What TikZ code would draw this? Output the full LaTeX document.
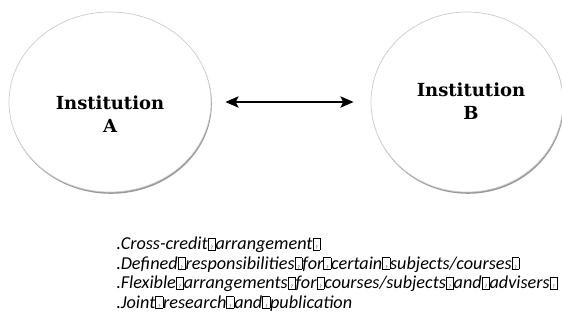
\documentclass[tikz,border=0pt]{standalone}
\usepackage{fontspec}
\setmainfont{Carlito}
\newfontfamily\instfont{DejaVu Serif}
\usetikzlibrary{shapes.geometric,arrows.meta}
\newcommand\qb{\raisebox{0.02em}{\setlength{\fboxsep}{0pt}\setlength{\fboxrule}{0.45pt}\fbox{\makebox[0.38em][c]{\rule{0pt}{0.62em}\fontsize{5}{5}\selectfont ?}}}}
\begin{document}
\begin{tikzpicture}[x=1pt,y=-1pt,
  inst/.style={ellipse, draw=black!20, line width=0.7pt, fill=white, inner sep=0pt},
  shade/.style={ellipse, draw=black!40, line width=2pt, inner sep=0pt},
  insttext/.style={font=\instfont\bfseries\fontsize{18}{22}\selectfont, anchor=base, inner sep=0pt},
  item/.style={font=\itshape\fontsize{18.2}{20}\selectfont, anchor=base west, inner sep=0pt},
  link/.style={line width=2.8pt, {Stealth[length=13pt,width=11pt,inset=2.5pt]}-{Stealth[length=13pt,width=11pt,inset=2.5pt]}}
]
\useasboundingbox (0,0) rectangle (562,320);
\fill[white] (0,0) rectangle (562,320);
% shadows
\node[shade, minimum width=200pt, minimum height=178pt] (sa) at (110.8,103.8) {};
\node[shade, minimum width=190pt, minimum height=178pt] (sb) at (467.8,103.8) {};
\node[inst, minimum width=202pt, minimum height=180pt] (A) at (110,102) {};
\node[inst, minimum width=192pt, minimum height=180pt] (B) at (467,102) {};
\node[insttext] (a1) at (110,110) {Institution};
\node[insttext] (a2) at (110,133) {A};
\node[insttext] (b1) at (471,97) {Institution};
\node[insttext] (b2) at (471,120) {B};
\draw[link, shorten <=14pt, shorten >=17pt] (A) -- (B);
\node[item] (l1) at (116,250) {{\upshape.}Cross-credit\qb arrangement\qb};
\node[item] (l2) at (116,269.5) {{\upshape.}Defined\qb responsibilities\qb for\qb certain\qb subjects/courses\qb};
\node[item] (l3) at (116,289) {{\upshape.}Flexible\qb arrangements\qb for\qb courses/subjects\qb and\qb advisers\qb};
\node[item] (l4) at (116,308.5) {{\upshape.}Joint\qb research\qb and\qb publication};
\end{tikzpicture}
\end{document}
